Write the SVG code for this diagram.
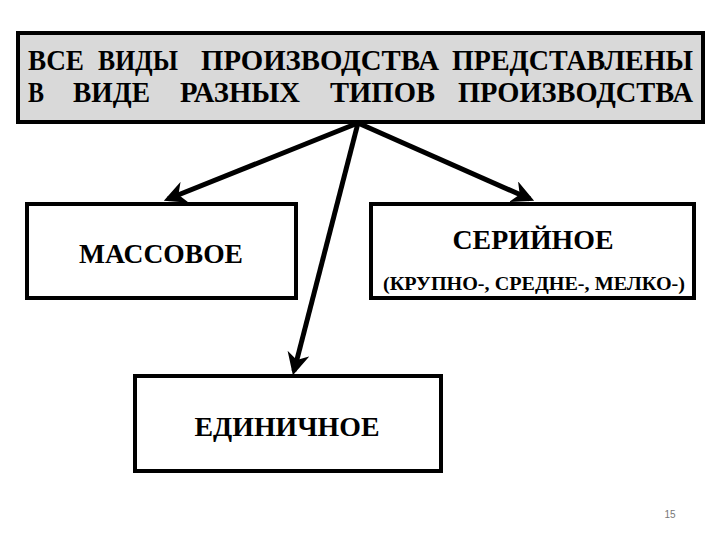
<svg xmlns="http://www.w3.org/2000/svg" width="720" height="540" viewBox="0 0 720 540">
<style>
.box{fill:#fff;stroke:#000;stroke-width:4}
.hdr{fill:#d9d9d9;stroke:#000;stroke-width:4}
.t{font-family:"Liberation Serif","Times New Roman",serif;font-weight:bold;fill:#000}
.conn{stroke:#000;stroke-width:5;fill:none;marker-end:url(#ah)}
</style>
<defs>
<marker id="ah" viewBox="0 0 10 10" refX="8" refY="5" markerWidth="4.5" markerHeight="4.5" orient="auto" markerUnits="strokeWidth">
<path d="M0,0 L10,5 L0,10 L3,5 Z" fill="#000"/>
</marker>
</defs>
<rect width="720" height="540" fill="#fff"/>
<g id="header">
<rect class="hdr" x="18" y="33" width="685" height="89"/>
<g class="t" font-size="30">
<text x="28" y="70" textLength="56" lengthAdjust="spacingAndGlyphs">ВСЕ</text>
<text x="98" y="70" textLength="80" lengthAdjust="spacingAndGlyphs">ВИДЫ</text>
<text x="201" y="70" textLength="238" lengthAdjust="spacingAndGlyphs">ПРОИЗВОДСТВА</text>
<text x="452" y="70" textLength="241" lengthAdjust="spacingAndGlyphs">ПРЕДСТАВЛЕНЫ</text>
<text x="28" y="102" textLength="16" lengthAdjust="spacingAndGlyphs">В</text>
<text x="73" y="102" textLength="77" lengthAdjust="spacingAndGlyphs">ВИДЕ</text>
<text x="180" y="102" textLength="120" lengthAdjust="spacingAndGlyphs">РАЗНЫХ</text>
<text x="330" y="102" textLength="105" lengthAdjust="spacingAndGlyphs">ТИПОВ</text>
<text x="458" y="102" textLength="235" lengthAdjust="spacingAndGlyphs">ПРОИЗВОДСТВА</text>
</g>
</g>
<g id="connectors">
<line class="conn" x1="358" y1="123" x2="168" y2="199"/>
<line class="conn" x1="358" y1="123" x2="530" y2="199"/>
<line class="conn" x1="358" y1="123" x2="294" y2="371"/>
</g>
<g id="massovoe">
<rect class="box" x="27" y="204" width="269" height="94"/>
<text class="t" x="161" y="263" font-size="27" text-anchor="middle" textLength="164" lengthAdjust="spacingAndGlyphs">МАССОВОЕ</text>
</g>
<g id="seriynoe">
<rect class="box" x="371" y="204" width="323" height="94"/>
<text class="t" x="533" y="249" font-size="27" text-anchor="middle" textLength="161" lengthAdjust="spacingAndGlyphs">СЕРИЙНОЕ</text>
<text class="t" x="534" y="290" font-size="18" text-anchor="middle" textLength="302" lengthAdjust="spacingAndGlyphs">(КРУПНО-, СРЕДНЕ-, МЕЛКО-)</text>
</g>
<g id="edinichnoe">
<rect class="box" x="135" y="376" width="306" height="95"/>
<text class="t" x="287" y="436" font-size="27" text-anchor="middle" textLength="185" lengthAdjust="spacingAndGlyphs">ЕДИНИЧНОЕ</text>
</g>
<text x="670" y="518" font-family="Liberation Sans,Arial,sans-serif" font-size="10" fill="#777" text-anchor="middle">15</text>
</svg>
